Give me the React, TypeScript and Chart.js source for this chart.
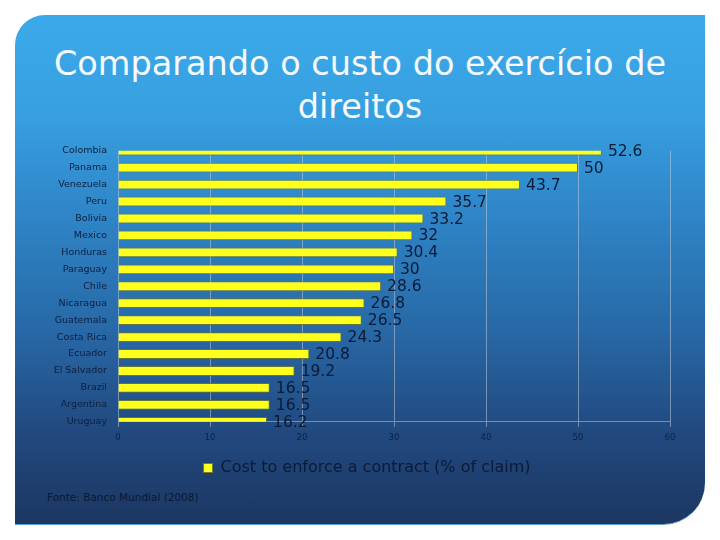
import React, { useEffect, useRef } from "react";
import { Chart, registerables } from "chart.js";

Chart.register(...registerables);

const titleLines = ["Comparando o custo do exercício de", "direitos"];
const countries = [
  "Colombia", "Panama", "Venezuela", "Peru", "Bolivia", "Mexico", "Honduras", "Paraguay",
  "Chile", "Nicaragua", "Guatemala", "Costa Rica", "Ecuador", "El Salvador", "Brazil",
  "Argentina", "Uruguay",
];
const costs = [52.6, 50, 43.7, 35.7, 33.2, 32, 30.4, 30, 28.6, 26.8, 26.5, 24.3, 20.8, 19.2, 16.5, 16.5, 16.2];
const valueLabels = ["52.6", "50", "43.7", "35.7", "33.2", "32", "30.4", "30", "28.6", "26.8", "26.5", "24.3", "20.8", "19.2", "16.5", "16.5", "16.2"];
const xMin = 0;
const xMax = 60;
const xStep = 10;
const seriesName = "Cost to enforce a contract (% of claim)";
const sourceNote = "Fonte: Banco Mundial (2008)";

const FONT = "'DejaVu Sans', 'Liberation Sans', sans-serif";
const DARK = "#0B1A36";

const valueLabelPlugin = {
  id: "valueLabels",
  afterUpdate(chart: any) {
    const lg = chart.legend;
    if (lg) {
      lg.left += 12;
      lg.right += 12;
    }
  },
  afterDatasetsDraw(chart: any) {
    const ctx = chart.ctx;
    const meta = chart.getDatasetMeta(0);
    ctx.save();
    ctx.font = `15.5px ${FONT}`;
    ctx.fillStyle = DARK;
    ctx.textAlign = "left";
    ctx.textBaseline = "middle";
    meta.data.forEach((bar: any, i: number) => {
      ctx.fillText(valueLabels[i], bar.x + 6, bar.y + 1);
    });
    ctx.restore();
  },
};

export default function App() {
  const canvasRef = useRef<HTMLCanvasElement | null>(null);

  useEffect(() => {
    if (!canvasRef.current) return;
    const chart = new Chart(canvasRef.current, {
      type: "bar",
      data: {
        labels: countries,
        datasets: [
          {
            label: seriesName,
            data: costs,
            backgroundColor: "#FFFF1E",
            borderColor: "rgba(110,120,40,0.85)",
            borderWidth: 1,
            barPercentage: 0.58,
            categoryPercentage: 1,
          },
        ],
      },
      options: {
        indexAxis: "y",
        responsive: false,
        animation: false,
        devicePixelRatio: 1,
        layout: { padding: { top: 13, right: 50, left: 40, bottom: 0 } },
        scales: {
          y: {
            type: "category",
            offset: false,
            grid: { display: false, drawTicks: false },
            border: { display: false },
            ticks: { font: { family: FONT, size: 9.5 }, color: "#0E1E3E", padding: 11 },
            afterFit: (scale: any) => {
              scale.width = 78;
            },
          },
          x: {
            min: xMin,
            max: xMax,
            ticks: { stepSize: xStep, font: { family: FONT, size: 8.5 }, color: "#10203F", padding: 6 },
            grid: { color: "rgba(190,200,215,0.55)", lineWidth: 1, tickLength: 5 },
            border: { display: true, color: "rgba(190,200,215,0.55)" },
          },
        },
        plugins: {
          legend: {
            position: "bottom",
            labels: {
              boxWidth: 9,
              boxHeight: 9,
              color: DARK,
              font: { family: FONT, size: 16 },
              padding: 11,
            },
          },
          tooltip: { enabled: false },
        },
      },
      plugins: [valueLabelPlugin],
    } as any);
    return () => chart.destroy();
  }, []);

  return (
    <div style={{ position: "fixed", left: 0, top: 0, width: 720, height: 540, background: "#ffffff", overflow: "hidden" }}>
      <div
        style={{
          position: "absolute",
          left: 15,
          top: 15,
          width: 690,
          height: 510,
          borderRadius: "30px 0 42px 0",
          background: "linear-gradient(to bottom, #3BAAEA 0%, #379FE0 20%, #2E84C6 40%, #2868A6 62%, #21497F 82%, #1C3762 100%)",
          borderBottom: "1px solid #5B9BD5",
          boxSizing: "border-box",
        }}
      />
      <div
        style={{
          position: "absolute",
          left: 0,
          top: 42,
          width: 720,
          textAlign: "center",
          color: "#F6FAFD",
          fontFamily: FONT,
          fontSize: 33.5,
          lineHeight: "43px",
        }}
      >
        {titleLines.map((t, i) => (
          <div key={i}>{t}</div>
        ))}
      </div>
      <canvas
        ref={canvasRef}
        width={720}
        height={352}
        style={{ position: "absolute", left: 0, top: 134, width: 720, height: 352 }}
      />
      <div
        style={{
          position: "absolute",
          left: 47,
          top: 491,
          color: "#0B1730",
          fontFamily: FONT,
          fontSize: 10.5,
          lineHeight: "12px",
          whiteSpace: "nowrap",
        }}
      >
        {sourceNote}
      </div>
    </div>
  );
}
